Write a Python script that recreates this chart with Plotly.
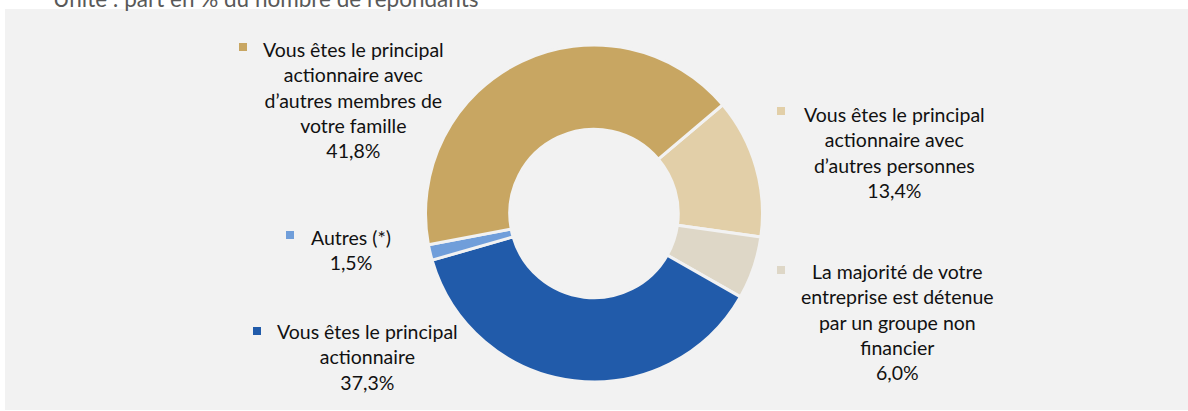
import plotly.graph_objects as go

# Répartition de l'actionnariat (part en % du nombre de répondants)
categories = [
    "Vous êtes le principal<br>actionnaire avec<br>d’autres personnes",
    "La majorité de votre<br>entreprise est détenue<br>par un groupe non<br>financier",
    "Vous êtes le principal<br>actionnaire",
    "Autres (*)",
    "Vous êtes le principal<br>actionnaire avec<br>d’autres membres de<br>votre famille",
]
values = [13.4, 6.0, 37.3, 1.5, 41.8]
colors = ["#E2CFA8", "#DED7C7", "#215BAA", "#709EDA", "#C8A662"]

# label block placement (paper pixels): text centre x, block centre y, key square centre
label_pos = [
    (894, 152, 781, 111),
    (897, 322, 781, 270),
    (367, 357, 257, 331),
    (351, 250, 290, 235),
    (354, 100, 243, 47),
]

W, H = 1188, 411
PANEL = "#F2F2F2"


def fx(px):
    return px / W


def fy(py):
    return 1 - py / H


def pct(v):
    return f"{v:.1f}".replace(".", ",") + "%"


fig = go.Figure()
fig.add_trace(go.Pie(
    labels=[c.replace("<br>", " ") for c in categories],
    values=values,
    hole=0.5,
    sort=False,
    direction="clockwise",
    rotation=49.8,
    marker=dict(colors=colors, line=dict(color=PANEL, width=3)),
    textinfo="none",
    hoverinfo="skip",
    showlegend=False,
    domain=dict(x=[0.3, 0.7], y=[fy(213.5 + 168.5), fy(213.5 - 168.5)]),
))

shapes = [dict(type="rect", xref="paper", yref="paper",
               x0=fx(5), x1=fx(W + 2), y0=fy(410), y1=fy(9),
               fillcolor=PANEL, line=dict(width=0), layer="below")]
annotations = [dict(text="Unité : part en % du nombre de répondants",
                    xref="paper", yref="paper", x=fx(51), y=fy(-1.5),
                    xanchor="left", yanchor="middle", showarrow=False,
                    font=dict(family="Lato", size=22.5, color="#595959"))]

for cat, v, col, (tx, ty, kx, ky) in zip(categories, values, colors, label_pos):
    annotations.append(dict(
        text=cat + "<br>" + pct(v), xref="paper", yref="paper",
        x=fx(tx), y=fy(ty), xanchor="center", yanchor="middle",
        align="center", showarrow=False,
        font=dict(family="Lato", size=19.5, color="#111111")))
    shapes.append(dict(type="rect", xref="paper", yref="paper",
                       x0=fx(kx - 4), x1=fx(kx + 4), y0=fy(ky + 4), y1=fy(ky - 4),
                       fillcolor=col, line=dict(width=0)))

fig.update_layout(
    width=W, height=H,
    margin=dict(l=0, r=0, t=0, b=0),
    paper_bgcolor="white",
    shapes=shapes,
    annotations=annotations,
)

fig.write_html("out.html")
